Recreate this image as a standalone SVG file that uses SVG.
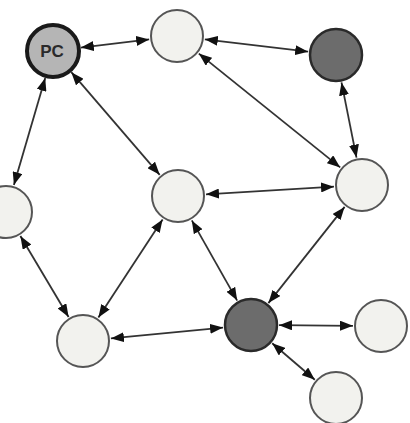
<svg xmlns="http://www.w3.org/2000/svg" width="410" height="423" viewBox="0 0 410 423">
<style>
.node{fill:#f2f2ee;stroke:#555;stroke-width:2}
.dark{fill:#6c6c6c;stroke:#2a2a2a;stroke-width:2.5}
.pc{fill:#b5b5b5;stroke:#1a1a1a;stroke-width:4}
.edge{stroke:#333;stroke-width:1.8;fill:none;marker-start:url(#ah);marker-end:url(#ah)}
.lbl{font-family:"Liberation Sans",Arial,sans-serif;font-weight:bold;font-size:17px;fill:#2a2a2a}
</style>
<defs>
<marker id="ah" markerUnits="userSpaceOnUse" markerWidth="13" markerHeight="10" refX="13" refY="5" orient="auto-start-reverse">
<path d="M0,0 L13,5 L0,10 z" fill="#111"/>
</marker>
</defs>
<rect width="410" height="423" fill="#fff"/>
<g id="connectors">
<line class="edge" x1="80.8" y1="47.6" x2="149.2" y2="39.4"/>
<line class="edge" x1="204.8" y1="39.3" x2="308.2" y2="51.7"/>
<line class="edge" x1="45.2" y1="77.9" x2="13.9" y2="185.1"/>
<line class="edge" x1="71.3" y1="72.2" x2="159.7" y2="174.8"/>
<line class="edge" x1="198.8" y1="53.6" x2="340.2" y2="167.4"/>
<line class="edge" x1="341.5" y1="82.4" x2="356.5" y2="157.6"/>
<line class="edge" x1="206" y1="194.3" x2="334" y2="186.7"/>
<line class="edge" x1="20.4" y1="236" x2="68.6" y2="317"/>
<line class="edge" x1="162.6" y1="219.4" x2="98.4" y2="317.6"/>
<line class="edge" x1="191.8" y1="220.4" x2="237.2" y2="300.6"/>
<line class="edge" x1="344.6" y1="206.9" x2="268.4" y2="303.1"/>
<line class="edge" x1="110.9" y1="338.4" x2="223.1" y2="327.6"/>
<line class="edge" x1="279" y1="325.2" x2="353" y2="325.8"/>
<line class="edge" x1="272.2" y1="343.2" x2="314.8" y2="379.8"/>
</g>
<g id="pc"><circle class="pc" cx="53" cy="51" r="26"/><text class="lbl" x="52" y="57" text-anchor="middle">PC</text></g>
<g id="top"><circle class="node" cx="177" cy="36" r="26"/></g>
<g id="topright"><circle class="dark" cx="336" cy="55" r="26"/></g>
<g id="left"><circle class="node" cx="6" cy="212" r="26"/></g>
<g id="center"><circle class="node" cx="178" cy="196" r="26"/></g>
<g id="right"><circle class="node" cx="362" cy="185" r="26"/></g>
<g id="bottomleft"><circle class="node" cx="83" cy="341" r="26"/></g>
<g id="bottomdark"><circle class="dark" cx="251" cy="325" r="26"/></g>
<g id="farright"><circle class="node" cx="381" cy="326" r="26"/></g>
<g id="bottomright"><circle class="node" cx="336" cy="398" r="26"/></g>
</svg>
